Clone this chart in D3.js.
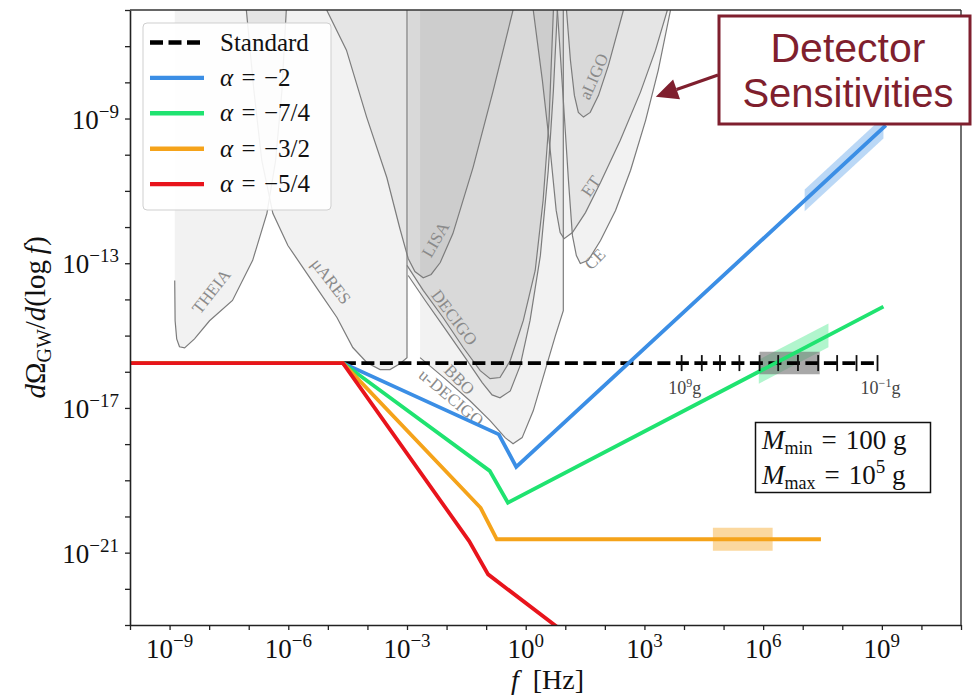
<!DOCTYPE html>
<html>
<head>
<meta charset="utf-8">
<script src="https://cdn.jsdelivr.net/npm/d3@7/dist/d3.min.js"></script>
<style>
html,body{margin:0;padding:0;background:#fff;}
svg{display:block;}
</style>
</head>
<body>
<svg id="chart" width="973" height="695" font-family="'Liberation Serif', 'Times New Roman', serif"></svg>
<script>
// ================= DATA (log10 exponents) =================
const xTickExponents = [-10,-9,-8,-7,-6,-5,-4,-3,-2,-1,0,1,2,3,4,5,6,7,8,9,10,11];
const xLabelExponents = [-9,-6,-3,0,3,6,9];
const yTickExponents = [-23,-22,-21,-20,-19,-18,-17,-16,-15,-14,-13,-12,-11,-10,-9,-8,-7,-6];
const yLabelExponents = [-21,-17,-13,-9];

const seriesLabels = ["Standard", "−2", "−7/4", "−3/2", "−5/4"];

const standardLogF     = [-4.62, 8.89];
const standardLogOmega = [-15.76, -15.76];
const blueLogF     = [-10, -4.62, -0.68, -0.24, 9.10];
const blueLogOmega = [-15.76, -15.76, -17.73, -18.63, -9.19];
const greenLogF     = [-10, -4.62, -0.91, -0.45, 9.04];
const greenLogOmega = [-15.76, -15.76, -18.74, -19.62, -14.20];
const orangeLogF     = [-10, -4.62, -1.14, -0.73, 7.46];
const orangeLogOmega = [-15.76, -15.76, -19.76, -20.63, -20.63];
const redLogF     = [-10, -4.62, -1.43, -0.95, 0.85];
const redLogOmega = [-15.76, -15.76, -20.68, -21.60, -23.10];

// shaded bands along lines: [start logf, end logf, half height in decades]
const blueBand   = [7.05, 9.04, 0.30];
const greenBand  = [5.89, 7.65, 0.33];
const orangeBand = [4.73, 6.24, 0.32];
const grayBand   = [5.91, 7.43, 0.31];

// PBH mass scale on the standard line
const massTickLogF = [3.94, 4.45, 4.91, 5.40, 5.91, 6.38, 6.88, 7.39, 7.87, 8.36, 8.89];
const massExponents = [9, 8, 7, 6, 5, 4, 3, 2, 1, 0, -1];

// detector sensitivity curves [logf, logOmega]
const theiaCurve = [[-8.87,-13.48],[-8.86,-14.59],[-8.82,-15.09],[-8.75,-15.31],[-8.62,-15.34],[-8.37,-15.09],
  [-7.99,-14.59],[-7.41,-14.03],[-6.90,-12.92],[-6.54,-11.62],[-6.32,-10.16],[-6.16,-8.22],[-6.05,-6.0]];
const muAresCurve = [[-7.06,-6.0],[-6.87,-8.22],[-6.67,-10.16],[-6.39,-11.62],[-6.01,-12.51],[-5.63,-13.12],
  [-5.20,-13.81],[-4.77,-14.50],[-4.37,-15.33],[-4.01,-15.75],[-3.68,-15.94],[-3.43,-15.94],[-3.18,-15.78],[-3.0,-15.61]];
const lisaCurve = [[-5.03,-6.0],[-4.53,-7.11],[-4.02,-8.96],[-3.51,-10.63],[-3.18,-12.04],[-2.97,-12.87],[-2.80,-13.23],
  [-2.59,-13.40],[-2.39,-13.31],[-2.16,-12.98],[-1.84,-12.18],[-1.33,-10.35],[-0.82,-8.22],[-0.32,-6.0]];
const decigoCurve = [[-3.0,-13.06],[-2.59,-13.75],[-2.09,-14.50],[-1.58,-15.33],[-1.15,-15.97],[-0.90,-16.19],
  [-0.65,-16.16],[-0.39,-15.69],[-0.06,-14.58],[0.24,-13.20],[0.44,-11.26],[0.59,-9.05],[0.70,-6.0]];
const bboCurve = [[-2.97,-13.34],[-2.54,-14.03],[-2.04,-14.81],[-1.53,-15.61],[-1.10,-16.30],[-0.85,-16.64],
  [-0.65,-16.72],[-0.39,-16.53],[-0.14,-15.83],[0.11,-14.58],[0.37,-12.79],[0.57,-10.43],[0.70,-8.22],[0.80,-6.0]];
const uDecigoCurve = [[-2.67,-15.61],[-2.04,-16.19],[-1.41,-16.80],[-0.90,-17.35],[-0.52,-17.82],[-0.32,-17.99],
  [-0.09,-17.82],[0.19,-17.08],[0.49,-15.97],[0.75,-15.00],[0.95,-14.31]];
const aligoCurve = [[1.03,-6.0],[1.13,-7.39],[1.23,-8.36],[1.33,-8.83],[1.46,-8.96],[1.63,-8.83],[1.84,-8.36],[2.09,-7.53],[2.47,-6.0]];
const etCurve = [[0.19,-6.0],[0.42,-7.94],[0.62,-9.88],[0.77,-11.54],[0.87,-12.15],[0.97,-12.32],[1.18,-12.15],
  [1.51,-11.60],[1.89,-10.77],[2.39,-9.60],[2.90,-8.27],[3.28,-7.11],[3.58,-6.0]];
const ceCurve = [[0.80,-6.0],[0.95,-8.49],[1.08,-10.71],[1.18,-12.23],[1.28,-12.79],[1.38,-13.01],[1.58,-12.92],
  [1.89,-12.37],[2.27,-11.54],[2.65,-10.43],[3.03,-9.05],[3.35,-7.66],[3.66,-6.0]];

const detectorNames = ["THEIA","μARES","LISA","DECIGO","BBO","u-DECIGO","aLIGO","ET","CE"];
// label anchor [logf, logOmega, rotation]
const detectorLabelPos = [[-7.91,-13.81,-52],[-4.95,-13.53,52],[-2.24,-12.37,-60],[-1.84,-14.53,53],
  [-1.71,-16.25,45],[-1.91,-16.75,40],[1.76,-7.86,-66],[1.68,-10.90,-55],[1.78,-12.92,-45]];

// ================= SETUP =================
const SERIF = "'Liberation Serif', 'Times New Roman', serif";
const SANS = "'Liberation Sans', Arial, sans-serif";
const svg = d3.select("#chart");
const L = 130, R = 961, T = 10, B = 625;
const x = d3.scaleLog().domain([1e-10, 1e11]).range([L, R]);
const y = d3.scaleLog().domain([1e-23, 1e-6]).range([B, T]);
const X = e => x(Math.pow(10, e));
const Y = e => y(Math.pow(10, e));
const topExp = -6;
const txt = (sel) => sel.append("text").attr("font-family", SERIF);

svg.append("defs").append("clipPath").attr("id","plotclip")
  .append("rect").attr("x",L).attr("y",T).attr("width",R-L).attr("height",B-T);

const plot = svg.append("g").attr("clip-path","url(#plotclip)");
const line = d3.line().x(d => X(d[0])).y(d => Y(d[1]));

// ---- detectors ----
const detectors = [
  {curve: theiaCurve, edgeEnd: false},
  {curve: muAresCurve, edgeEnd: true},
  {curve: lisaCurve, edgeEnd: false},
  {curve: decigoCurve, edgeEnd: false},
  {curve: bboCurve, edgeEnd: false},
  {curve: uDecigoCurve, edgeEnd: true},
  {curve: aligoCurve, edgeEnd: false},
  {curve: etCurve, edgeEnd: false},
  {curve: ceCurve, edgeEnd: false}
];
const detG = plot.append("g");
detectors.forEach(d => {
  const c = d.curve;
  const poly = c.concat([[c[c.length-1][0], topExp],[c[0][0], topExp]]);
  detG.append("path").attr("d", line(poly) + "Z")
    .attr("fill", "#000").attr("fill-opacity", 0.05).attr("stroke", "none");
});
detectors.forEach(d => {
  const c = d.curve;
  const pts = d.edgeEnd ? c.concat([[c[c.length-1][0], topExp]]) : c;
  detG.append("path").attr("d", line(pts))
    .attr("fill", "none").attr("stroke", "#7c7c7c").attr("stroke-width", 1.2);
});
detectorNames.forEach((n, i) => {
  const p = detectorLabelPos[i];
  txt(detG)
    .attr("transform", `translate(${X(p[0])},${Y(p[1])}) rotate(${p[2]})`)
    .attr("text-anchor","middle").attr("dominant-baseline","middle")
    .attr("font-size", 17).attr("fill", "#8a8a8a").text(n);
});

// ---- bands ----
function interp(F, O, f) {
  for (let i = 0; i < F.length - 1; i++) {
    if (f >= F[i] && f <= F[i+1]) {
      const t = (f - F[i]) / (F[i+1] - F[i]);
      return O[i] + t * (O[i+1] - O[i]);
    }
  }
  return O[O.length-1];
}
function band(F, O, b, color, op) {
  const a = interp(F, O, b[0]), c = interp(F, O, b[1]);
  const poly = [[b[0], a + b[2]], [b[1], c + b[2]], [b[1], c - b[2]], [b[0], a - b[2]]];
  plot.append("path").attr("d", line(poly) + "Z").attr("fill", color).attr("fill-opacity", op);
}
band(blueLogF, blueLogOmega, blueBand, "#3b8ee5", 0.35);
band(greenLogF, greenLogOmega, greenBand, "#1fe370", 0.35);
band(orangeLogF, orangeLogOmega, orangeBand, "#f5a31a", 0.42);
band(standardLogF, standardLogOmega, grayBand, "#6e6e6e", 0.6);

// ---- series lines ----
const zip = (F, O) => F.map((f, i) => [f, O[i]]);
const lw = 3.8;
plot.append("path").attr("d", line(zip(standardLogF, standardLogOmega)))
  .attr("fill","none").attr("stroke","#000").attr("stroke-width",lw).attr("stroke-dasharray","13,5.5");
const colored = [
  [blueLogF, blueLogOmega, "#3b8ee5"],
  [greenLogF, greenLogOmega, "#1fe370"],
  [orangeLogF, orangeLogOmega, "#f5a31a"],
  [redLogF, redLogOmega, "#e8141c"]
];
colored.forEach(s => {
  plot.append("path").attr("d", line(zip(s[0], s[1])))
    .attr("fill","none").attr("stroke", s[2]).attr("stroke-width", lw)
    .attr("stroke-linejoin","miter");
});

// ---- mass ticks ----
const yStd = Y(standardLogOmega[0]);
massTickLogF.forEach((f, i) => {
  svg.append("line").attr("x1", X(f)).attr("x2", X(f)).attr("y1", yStd - 8).attr("y2", yStd + 8)
    .attr("stroke", "#111").attr("stroke-width", 1.8);
});
[0, massTickLogF.length - 1].forEach(i => {
  const t = txt(svg).attr("x", X(massTickLogF[i]) + 3).attr("y", yStd + 31)
    .attr("text-anchor","middle").attr("font-size", 18).attr("fill", "#444");
  t.append("tspan").text("10");
  t.append("tspan").attr("font-size", 12).attr("dy", -7).text(String(massExponents[i]).replace("-", "−"));
  t.append("tspan").attr("dy", 7).text("g");
});

// ---- axes ----
const xAxis = d3.axisBottom(x).tickValues(xTickExponents.map(e => Math.pow(10, e)))
  .tickSize(5).tickSizeOuter(0).tickFormat("");
const gx = svg.append("g").attr("transform", `translate(0,${B})`).call(xAxis);
const yAxis = d3.axisLeft(y).tickValues(yTickExponents.map(e => Math.pow(10, e)))
  .tickSize(5).tickSizeOuter(0).tickFormat("");
const gy = svg.append("g").attr("transform", `translate(${L},0)`).call(yAxis);
[gx, gy].forEach(g => {
  g.selectAll("path.domain").attr("stroke", "#222").attr("stroke-width", 1.6);
  g.selectAll(".tick line").attr("stroke", "#222").attr("stroke-width", 1.3);
});
svg.append("line").attr("x1", L).attr("x2", R).attr("y1", T).attr("y2", T).attr("stroke", "#333").attr("stroke-width", 1.4);
svg.append("line").attr("x1", R).attr("x2", R).attr("y1", T).attr("y2", B).attr("stroke", "#333").attr("stroke-width", 1.4);

xLabelExponents.forEach(e => {
  const t = txt(svg).attr("x", X(e)).attr("y", 658).attr("text-anchor","middle").attr("font-size", 27).attr("fill","#111");
  t.append("tspan").text("10");
  t.append("tspan").attr("font-size", 19).attr("dy", -11).text(String(e).replace("-", "−"));
});
yLabelExponents.forEach(e => {
  const t = txt(svg).attr("x", 119).attr("y", Y(e) + 10).attr("text-anchor","end").attr("font-size", 27).attr("fill","#111");
  t.append("tspan").text("10");
  t.append("tspan").attr("font-size", 19).attr("dy", -11).text(String(e).replace("-", "−"));
});

// axis titles
const xt = txt(svg).attr("x", (L + R) / 2 + 2).attr("y", 689).attr("text-anchor","middle").attr("font-size", 28).attr("fill","#111");
xt.append("tspan").attr("font-style","italic").text("f");
xt.append("tspan").text("\u2002[Hz]");

const yt = txt(svg).attr("transform", `translate(45,${(T + B) / 2}) rotate(-90)`)
  .attr("text-anchor","middle").attr("font-size", 29).attr("fill","#111");
yt.append("tspan").attr("font-style","italic").text("d");
yt.append("tspan").text("Ω");
yt.append("tspan").attr("font-size", 20).attr("dy", 6).text("GW");
yt.append("tspan").attr("dy", -6).text("/");
yt.append("tspan").attr("font-style","italic").text("d");
yt.append("tspan").text("(log\u2009");
yt.append("tspan").attr("font-style","italic").text("f");
yt.append("tspan").text(")");

// ---- legend ----
const lg = svg.append("g");
lg.append("rect").attr("x", 143).attr("y", 23).attr("width", 188).attr("height", 187).attr("rx", 4)
  .attr("fill", "#fff").attr("fill-opacity", 0.9).attr("stroke", "#cfcfcf").attr("stroke-width", 1);
const legendColors = ["#000", "#3b8ee5", "#1fe370", "#f5a31a", "#e8141c"];
seriesLabels.forEach((s, i) => {
  const yy = 42.5 + i * 35.4;
  lg.append("line").attr("x1", 150).attr("x2", 204).attr("y1", yy).attr("y2", yy)
    .attr("stroke", legendColors[i]).attr("stroke-width", 4.4)
    .attr("stroke-dasharray", i === 0 ? "13,5.5" : null);
  const t = txt(lg).attr("x", 220).attr("y", yy + 8).attr("font-size", 25).attr("fill", "#111");
  if (i === 0) t.text(s);
  else {
    t.append("tspan").attr("font-style","italic").text("α");
    t.append("tspan").text("\u2004=\u2004" + s);
  }
});

// ---- M box ----
const mb = svg.append("g");
mb.append("rect").attr("x", 755.5).attr("y", 422.5).attr("width", 175).attr("height", 70)
  .attr("fill", "#fff").attr("stroke", "#111").attr("stroke-width", 1.5);
const m1 = txt(mb).attr("x", 762).attr("y", 449).attr("font-size", 27).attr("fill", "#111");
m1.append("tspan").attr("font-style","italic").text("M");
m1.append("tspan").attr("font-size", 18).attr("dy", 5).text("min");
m1.append("tspan").attr("dy", -5).text("\u2004=\u2004100\u2005g");
const m2 = txt(mb).attr("x", 762).attr("y", 484).attr("font-size", 27).attr("fill", "#111");
m2.append("tspan").attr("font-style","italic").text("M");
m2.append("tspan").attr("font-size", 18).attr("dy", 5).text("max");
m2.append("tspan").attr("dy", -5).text("\u2004=\u200410");
m2.append("tspan").attr("font-size", 19).attr("dy", -11).text("5");
m2.append("tspan").attr("dy", 11).text("\u2005g");

// ---- Detector Sensitivities annotation ----
const maroon = "#7f1f2e";
const an = svg.append("g");
const tip = [655.8, 96.7], from = [718, 75];
const dx = tip[0] - from[0], dy = tip[1] - from[1], len = Math.hypot(dx, dy);
const ux = dx / len, uy = dy / len, hl = 22, hw = 10.5;
const bx = tip[0] - ux * hl, by = tip[1] - uy * hl;
an.append("line").attr("x1", from[0]).attr("y1", from[1]).attr("x2", bx).attr("y2", by)
  .attr("stroke", maroon).attr("stroke-width", 3.2);
an.append("path").attr("d", `M${tip[0]},${tip[1]}L${bx - uy * hw},${by + ux * hw}L${bx + uy * hw},${by - ux * hw}Z`)
  .attr("fill", maroon);
an.append("rect").attr("x", 719).attr("y", 16).attr("width", 251).attr("height", 108)
  .attr("fill", "#fff").attr("stroke", maroon).attr("stroke-width", 3);
an.append("text").attr("x", 848).attr("y", 62).attr("text-anchor","middle")
  .attr("font-family", SANS).attr("font-size", 41).attr("fill", maroon).text("Detector");
an.append("text").attr("x", 848).attr("y", 107).attr("text-anchor","middle")
  .attr("font-family", SANS).attr("font-size", 40).attr("fill", maroon).text("Sensitivities");
</script>
</body>
</html>
